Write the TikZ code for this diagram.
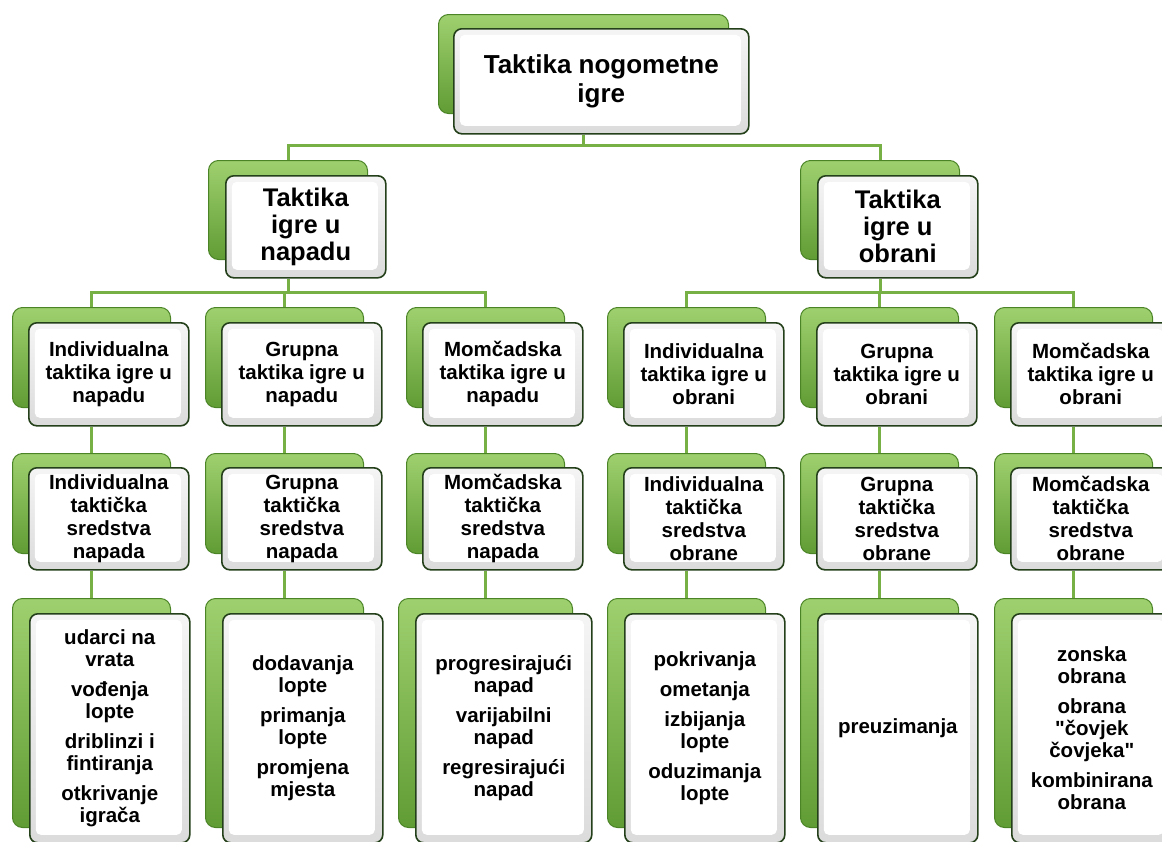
\documentclass[tikz,border=0pt]{standalone}
\usepackage{fontspec}
\setmainfont{Liberation Sans}[Ligatures=TeXOff]
\usetikzlibrary{backgrounds,calc}
\definecolor{gTop}{HTML}{9FD06F}
\definecolor{gBot}{HTML}{609C34}
\definecolor{gEdge}{HTML}{4A8426}
\definecolor{fEdge}{HTML}{24401A}
\definecolor{conn}{HTML}{77B045}
\tikzset{
  backbox/.style={draw=gEdge, line width=1pt, rounded corners=10pt, top color=gTop, bottom color=gBot, anchor=north west, inner sep=0pt},
  frontbox/.style={draw=fEdge, line width=1.6pt, rounded corners=8pt, top color=gray!8, bottom color=gray!28, anchor=north west, inner sep=0pt, align=center, text=black,
    path picture={\fill[white, rounded corners=5pt] ([shift={(6pt,-6pt)}]path picture bounding box.north west) rectangle ([shift={(-8pt,8pt)}]path picture bounding box.south east);}},
  big/.style={font=\fontsize{26}{29}\selectfont\bfseries},
  mid/.style={font=\fontsize{25.5}{27}\selectfont\bfseries},
  small/.style={font=\fontsize{20.5}{23}\selectfont\bfseries},
  list/.style={font=\fontsize{20.5}{22}\selectfont\bfseries},
  link/.style={draw=conn, line width=3pt},
}
\newcommand\gp{\\[8pt]}
\begin{document}
\begin{tikzpicture}[x=1pt,y=-1pt]
\useasboundingbox (0,0) rectangle (1162,841);
\clip (0,0) rectangle (1162,841);
% top
\node[backbox, minimum width=290, minimum height=99] (bT) at (438,14) {};
\node[frontbox, big, minimum width=295, minimum height=105] (fT) at (453,28) {Taktika nogometne\\igre};
% level 2
\node[backbox, minimum width=159, minimum height=99] (bA) at (208,160) {};
\node[frontbox, mid, minimum width=160, minimum height=102] (fA) at (225,175) {Taktika\\igre u\\napadu};
\node[backbox, minimum width=159, minimum height=99] (bO) at (800,160) {};
\node[frontbox, mid, minimum width=160, minimum height=102] (fO) at (817,175) {Taktika\\igre u\\obrani};
% row 3
\foreach \n/\x/\t in {1/12/{Individualna\\taktika igre u\\napadu},2/205/{Grupna\\taktika igre u\\napadu},3/406/{Momčadska\\taktika igre u\\napadu},4/607/{Individualna\\taktika igre u\\obrani},5/800/{Grupna\\taktika igre u\\obrani},6/994/{Momčadska\\taktika igre u\\obrani}}{
  \node[backbox, minimum width=158, minimum height=100] (b3\n) at (\x,307) {};
  \node[frontbox, small, minimum width=160, minimum height=103] (f3\n) at (\x+16,322) {\t};
}
% row 4
\foreach \n/\x/\t in {1/12/{Individualna\\taktička\\sredstva\\napada},2/205/{Grupna\\taktička\\sredstva\\napada},3/406/{Momčadska\\taktička\\sredstva\\napada},4/607/{Individualna\\taktička\\sredstva\\obrane},5/800/{Grupna\\taktička\\sredstva\\obrane},6/994/{Momčadska\\taktička\\sredstva\\obrane}}{
  \node[backbox, minimum width=158, minimum height=100] (b4\n) at (\x,453) {};
  \node[frontbox, small, minimum width=160, minimum height=102] (f4\n) at (\x+16,467) {\t};
}
% row 5
\foreach \n/\x/\w/\t in {1/12/158/{udarci na\\vrata\gp vođenja\\lopte\gp driblinzi i\\fintiranja\gp otkrivanje\\igrača},2/205/158/{dodavanja\\lopte\gp primanja\\lopte\gp promjena\\mjesta},3/398/174/{progresirajući\\napad\gp varijabilni\\napad\gp regresirajući\\napad},4/607/158/{pokrivanja\gp ometanja\gp izbijanja\\lopte\gp oduzimanja\\lopte},5/800/158/{preuzimanja},6/994/158/{zonska\\obrana\gp obrana\\"čovjek\\čovjeka"\gp kombinirana\\obrana}}{
  \node[backbox, minimum width=\w, minimum height=229] (b5\n) at (\x,598) {};
  \node[frontbox, list, minimum width=\w+2, minimum height=229] (f5\n) at (\x+17,613) {\t};
}
\coordinate (busT) at (0,145);
\coordinate (busR) at (0,292);
\begin{pgfonlayer}{background}
\fill[white] (0,0) rectangle (1162,841);
\draw[link] (bT.center |- fT.south) -- (bT.center |- busT) -| (bA.north);
\draw[link] (bT.center |- busT) -| (bO.north);
\draw[link] (bA.center |- fA.south) -- (bA.center |- busR) -| (b31.north);
\draw[link] (bA.center |- busR) -| (b33.north);
\draw[link] (bA.center |- busR) -- (b32.center |- busR) -- (b32.north);
\draw[link] (bO.center |- fO.south) -- (bO.center |- busR) -| (b34.north);
\draw[link] (bO.center |- busR) -| (b36.north);
\draw[link] (bO.center |- busR) -- (b35.center |- busR) -- (b35.north);
\foreach \n in {1,...,6}{
  \draw[link] (b3\n.center |- f3\n.south) -- (b4\n.north);
  \draw[link] (b4\n.center |- f4\n.south) -- (b5\n.north);
}
\end{pgfonlayer}
\end{tikzpicture}
\end{document}
